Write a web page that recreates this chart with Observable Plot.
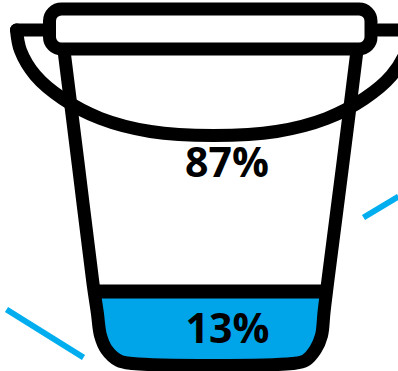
<!DOCTYPE html>
<html>
<head>
<meta charset="utf-8">
<style>
  html, body { margin: 0; padding: 0; background: #fff; overflow: hidden; }
</style>
<script src="https://cdn.jsdelivr.net/npm/d3@7"></script>
<script src="https://cdn.jsdelivr.net/npm/@observablehq/plot@0.6"></script>
</head>
<body>
<script>
// Shares shown on the bucket
const shareLabels = [
  {share: 87, cx: 226.5, cy: 163},
  {share: 13, cx: 227, cy: 329}
];
const waterShare = 13;

// Bucket outline, in drawing units
const bucketFloor = 356;
const unitsPerPercent = 5;
const bucketWall = [
  [63.5, 50], [78, 166], [92.5, 283], [96.8, 312], [100, 335], [106, 349], [118, 360], [132, 363],
  [292, 363], [305, 360], [315, 349], [321, 335], [323.5, 312], [327, 283], [342, 166], [356.5, 50]
];
const waterBed = [
  [96, 312], [100, 335], [106, 349], [118, 360], [132, 363],
  [292, 363], [305, 360], [315, 349], [321, 335], [325, 312]
];
const waterMeniscus = [[92, 291], [328, 291]];
const lid = [{x1: 49.5, x2: 371, y1: 9, y2: 49}];
const handleStubLeft = [[43, 29.5], [16, 29.5]];
const handleStubRight = [[378, 29.5], [410, 29.5]];
const handleArc = [
  [16, 29.5], [20, 50], [35, 75], [62, 98], [100, 118], [150, 131], [213, 135],
  [276, 131], [326, 118], [364, 98], [391, 75], [406, 50], [410, 29.5]
];
const splashLeft = [[6, 309], [83, 357]];
const splashRight = [[363, 217], [398, 196]];

const ink = "#000";
const waterBlue = "#00a4e8";
const splashBlue = "#00aeef";
const waterTop = bucketFloor - waterShare * unitsPerPercent;

const px = d => d[0];
const py = d => d[1];

const chart = Plot.plot({
  width: 398,
  height: 371,
  margin: 0,
  x: {domain: [0, 398], range: [0, 398], axis: null},
  y: {domain: [0, 371], range: [0, 371], axis: null},
  style: {background: "#fff"},
  marks: [
    Plot.areaY(waterBed, {x: px, y1: waterTop, y2: py, fill: waterBlue}),
    Plot.line(splashLeft, {x: px, y: py, stroke: splashBlue, strokeWidth: 6, strokeLinecap: "butt"}),
    Plot.line(splashRight, {x: px, y: py, stroke: splashBlue, strokeWidth: 6, strokeLinecap: "butt"}),
    Plot.line(handleArc, {x: px, y: py, stroke: ink, strokeWidth: 13, curve: "catmull-rom", clip: true}),
    Plot.line(handleStubLeft, {x: px, y: py, stroke: ink, strokeWidth: 13, strokeLinecap: "round"}),
    Plot.line(handleStubRight, {x: px, y: py, stroke: ink, strokeWidth: 13, clip: true}),
    Plot.line(bucketWall, {x: px, y: py, stroke: ink, strokeWidth: 13, curve: "catmull-rom"}),
    Plot.line(waterMeniscus, {x: px, y: py, stroke: ink, strokeWidth: 14, strokeLinecap: "butt"}),
    Plot.rect(lid, {x1: "x1", x2: "x2", y1: "y1", y2: "y2", fill: "#fff", stroke: ink, strokeWidth: 13, rx: 12}),
    Plot.text(shareLabels, {
      x: "cx", y: "cy", text: d => `${d.share}%`,
      fontFamily: "Open Sans", fontWeight: 700, fontSize: 41, fill: ink, textAnchor: "middle", lineAnchor: "middle"
    })
  ]
});
document.body.append(chart);
</script>
</body>
</html>
